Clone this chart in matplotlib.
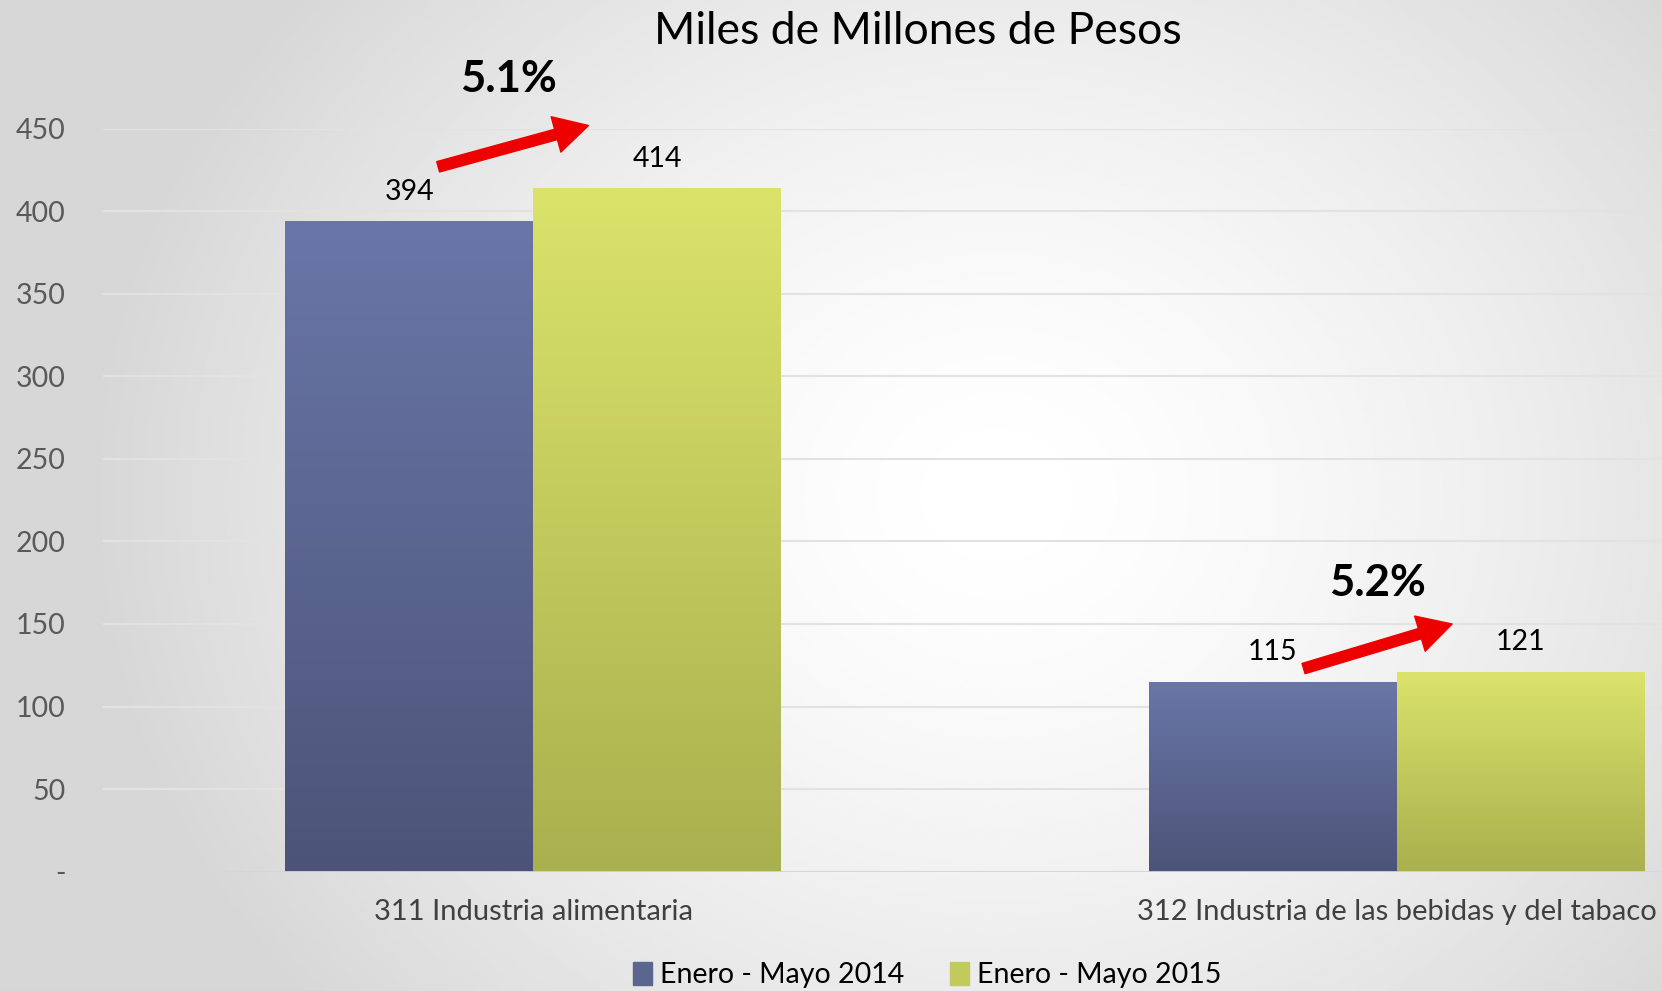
import numpy as np
import matplotlib.pyplot as plt
from matplotlib.colors import LinearSegmentedColormap
from matplotlib.patches import Patch

categories = ["311 Industria alimentaria", "312 Industria de las bebidas y del tabaco"]
series_names = ["Enero - Mayo 2014", "Enero - Mayo 2015"]
valores_2014 = [394, 115]
valores_2015 = [414, 121]
variacion = ["5.1%", "5.2%"]
yticks = [0, 50, 100, 150, 200, 250, 300, 350, 400, 450]
ytick_labels = ["-", "50", "100", "150", "200", "250", "300", "350", "400", "450"]

plt.rcParams['font.family'] = ['Lato', 'DejaVu Sans']

fig = plt.figure(figsize=(16.62, 9.91), dpi=100)

# fondo gris con centro claro
bg = fig.add_axes([0, 0, 1, 1], zorder=-10)
yy, xx = np.mgrid[0:1:400j, 0:1:600j]
r = np.sqrt(((xx - 0.6) / 0.55) ** 2 + ((yy - 0.5) / 0.8) ** 2)
shade = 1 - 0.16 * np.clip(r, 0, 1) ** 1.5
bg.imshow(shade, cmap="gray", vmin=0, vmax=1, extent=[0, 1, 0, 1], aspect="auto")
bg.axis("off")

ax = fig.add_axes([0.062, 0.1205, 0.938, 0.7495])
ax.set_facecolor("none")

x = np.arange(len(categories))
w = 0.287
bars1 = ax.bar(x - w / 2, valores_2014, w, color="#5c6894", zorder=3)
bars2 = ax.bar(x + w / 2, valores_2015, w, color="#c4cb5c", zorder=3)

cmap_azul = LinearSegmentedColormap.from_list("azul", ["#4b5478", "#6a76a8"])
cmap_verde = LinearSegmentedColormap.from_list("verde", ["#a9b04e", "#dbe36b"])
grad = np.linspace(0, 1, 256).reshape(-1, 1)
for bars, cm in [(bars1, cmap_azul), (bars2, cmap_verde)]:
    for b in bars:
        x0, y0 = b.get_xy()
        ax.imshow(grad, cmap=cm, origin="lower", aspect="auto", zorder=3.5,
                  extent=[x0, x0 + b.get_width(), y0, y0 + b.get_height()])

# etiquetas de valores
for bars in (bars1, bars2):
    for b in bars:
        ax.text(b.get_x() + b.get_width() / 2, b.get_height() + 18, str(int(b.get_height())),
                ha="center", va="center", fontsize=20.5, color="black", zorder=5)

# flechas y porcentajes
ax.annotate("", xy=(0.064, 452), xytext=(-0.11, 427), annotation_clip=False,
            arrowprops=dict(arrowstyle="simple,head_length=1.1,head_width=1.2,tail_width=0.35",
                            color="#ee0000", mutation_scale=22, shrinkA=0, shrinkB=0))
ax.annotate("", xy=(1.064, 150), xytext=(0.892, 123), annotation_clip=False,
            arrowprops=dict(arrowstyle="simple,head_length=1.1,head_width=1.2,tail_width=0.35",
                            color="#ee0000", mutation_scale=22, shrinkA=0, shrinkB=0))
ax.text(-0.028, 480, variacion[0], ha="center", va="center", fontsize=31.5,
        fontweight="bold", clip_on=False)
ax.text(0.978, 175, variacion[1], ha="center", va="center", fontsize=31.5,
        fontweight="bold", clip_on=False)

ax.set_xlim(-0.498, 1.307)
ax.set_ylim(0, 450)
ax.set_yticks(yticks)
ax.set_yticklabels(ytick_labels)
ax.set_xticks(x)
ax.set_xticklabels(categories)
ax.tick_params(axis="y", length=0, pad=27, labelsize=20.5, labelcolor="#595959")
ax.tick_params(axis="x", length=0, pad=20, labelsize=21, labelcolor="#404040")
ax.grid(axis="y", color="#e2e2e2", linewidth=1.5, zorder=0)
ax.set_axisbelow(True)
for s in ax.spines.values():
    s.set_visible(False)
ax.axhline(0, color="#d4d4dc", linewidth=2, zorder=4)

fig.text(0.552, 0.968, "Miles de Millones de Pesos", ha="center", va="center", fontsize=32)

handles = [Patch(color="#5a6590"), Patch(color="#c3ca5d")]
fig.legend(handles, series_names, loc="center", bbox_to_anchor=(0.558, 0.016), ncol=2,
           frameon=False, fontsize=20.5, handlelength=0.65, handleheight=0.85,
           columnspacing=1.6, handletextpad=0.3)

fig.savefig("out.png", dpi=100)
